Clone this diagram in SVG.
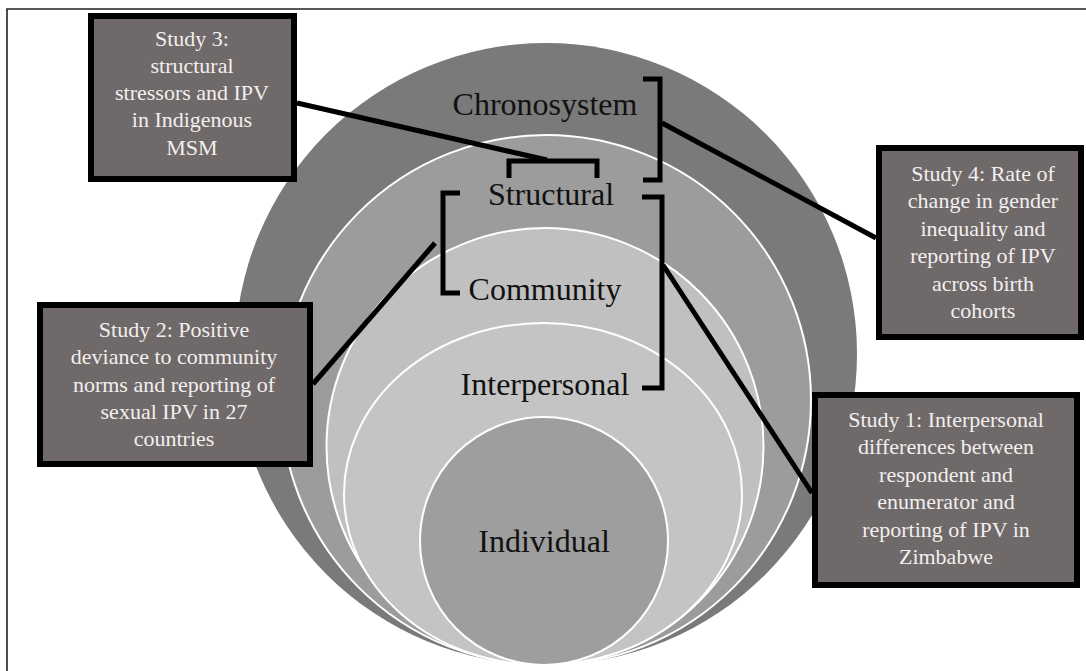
<svg xmlns="http://www.w3.org/2000/svg" width="1086" height="671" viewBox="0 0 1086 671">
<style>
.ring{stroke:#ffffff;stroke-width:2}
.lbl{font-family:"Liberation Serif","Times New Roman",serif;font-size:32px;fill:#111111;text-anchor:middle}
.box{fill:#6f6969;stroke:#000000;stroke-width:6}
.bt{font-family:"Liberation Serif","Times New Roman",serif;font-size:22px;fill:#f2efef;text-anchor:middle}
.con{fill:none;stroke:#000000;stroke-width:5;stroke-linecap:butt;stroke-linejoin:miter}
</style>
<rect x="0" y="0" width="1086" height="671" fill="#ffffff"/>
<path d="M7 680 V9 H1100" fill="none" stroke="#222222" stroke-width="1.6"/>
<g id="chronosystem">
<circle cx="546" cy="354" r="311" fill="#7a7a7a"/>
<text class="lbl" x="545" y="115">Chronosystem</text>
</g>
<g id="structural">
<circle class="ring" cx="546" cy="400" r="265" fill="#9c9c9c"/>
<text class="lbl" x="551" y="205">Structural</text>
</g>
<g id="community">
<circle class="ring" cx="545" cy="446.5" r="218.5" fill="#c0c0c0"/>
<text class="lbl" x="545" y="300">Community</text>
</g>
<g id="interpersonal">
<ellipse class="ring" cx="543" cy="494" rx="199" ry="171" fill="#c4c4c4"/>
<text class="lbl" x="545" y="395">Interpersonal</text>
</g>
<g id="individual">
<circle class="ring" cx="544" cy="541" r="124" fill="#9e9e9e"/>
<text class="lbl" x="544" y="552">Individual</text>
</g>
<g id="connectors">
<path class="con" d="M643 79 H660 V180 H643"/>
<path class="con" d="M662 123 L876 238"/>
<path class="con" d="M509 178 V161 H597 V178"/>
<path class="con" d="M297 103 L547 160"/>
<path class="con" d="M460 193 H443 V293 H460"/>
<path class="con" d="M435 243 L313 384"/>
<path class="con" d="M642 197 H662 V388 H642"/>
<path class="con" d="M663 265 L812 493"/>
</g>
<g id="study3">
<rect class="box" x="91" y="16" width="203" height="163"/>
<text class="bt" x="192" y="46">Study 3:</text>
<text class="bt" x="192" y="73">structural</text>
<text class="bt" x="192" y="100">stressors and IPV</text>
<text class="bt" x="192" y="127">in Indigenous</text>
<text class="bt" x="192" y="155">MSM</text>
</g>
<g id="study4">
<rect class="box" x="879" y="148" width="202" height="189"/>
<text class="bt" x="983" y="181">Study 4: Rate of</text>
<text class="bt" x="983" y="208">change in gender</text>
<text class="bt" x="983" y="236">inequality and</text>
<text class="bt" x="983" y="263">reporting of IPV</text>
<text class="bt" x="983" y="291">across birth</text>
<text class="bt" x="983" y="318">cohorts</text>
</g>
<g id="study2">
<rect class="box" x="40" y="305" width="270" height="159"/>
<text class="bt" x="174" y="337">Study 2: Positive</text>
<text class="bt" x="174" y="364">deviance to community</text>
<text class="bt" x="174" y="392">norms and reporting of</text>
<text class="bt" x="174" y="419">sexual IPV in 27</text>
<text class="bt" x="174" y="446">countries</text>
</g>
<g id="study1">
<rect class="box" x="815" y="395" width="262" height="190"/>
<text class="bt" x="946" y="427">Study 1: Interpersonal</text>
<text class="bt" x="946" y="454">differences between</text>
<text class="bt" x="946" y="482">respondent and</text>
<text class="bt" x="946" y="509">enumerator and</text>
<text class="bt" x="946" y="537">reporting of IPV in</text>
<text class="bt" x="946" y="564">Zimbabwe</text>
</g>
</svg>
